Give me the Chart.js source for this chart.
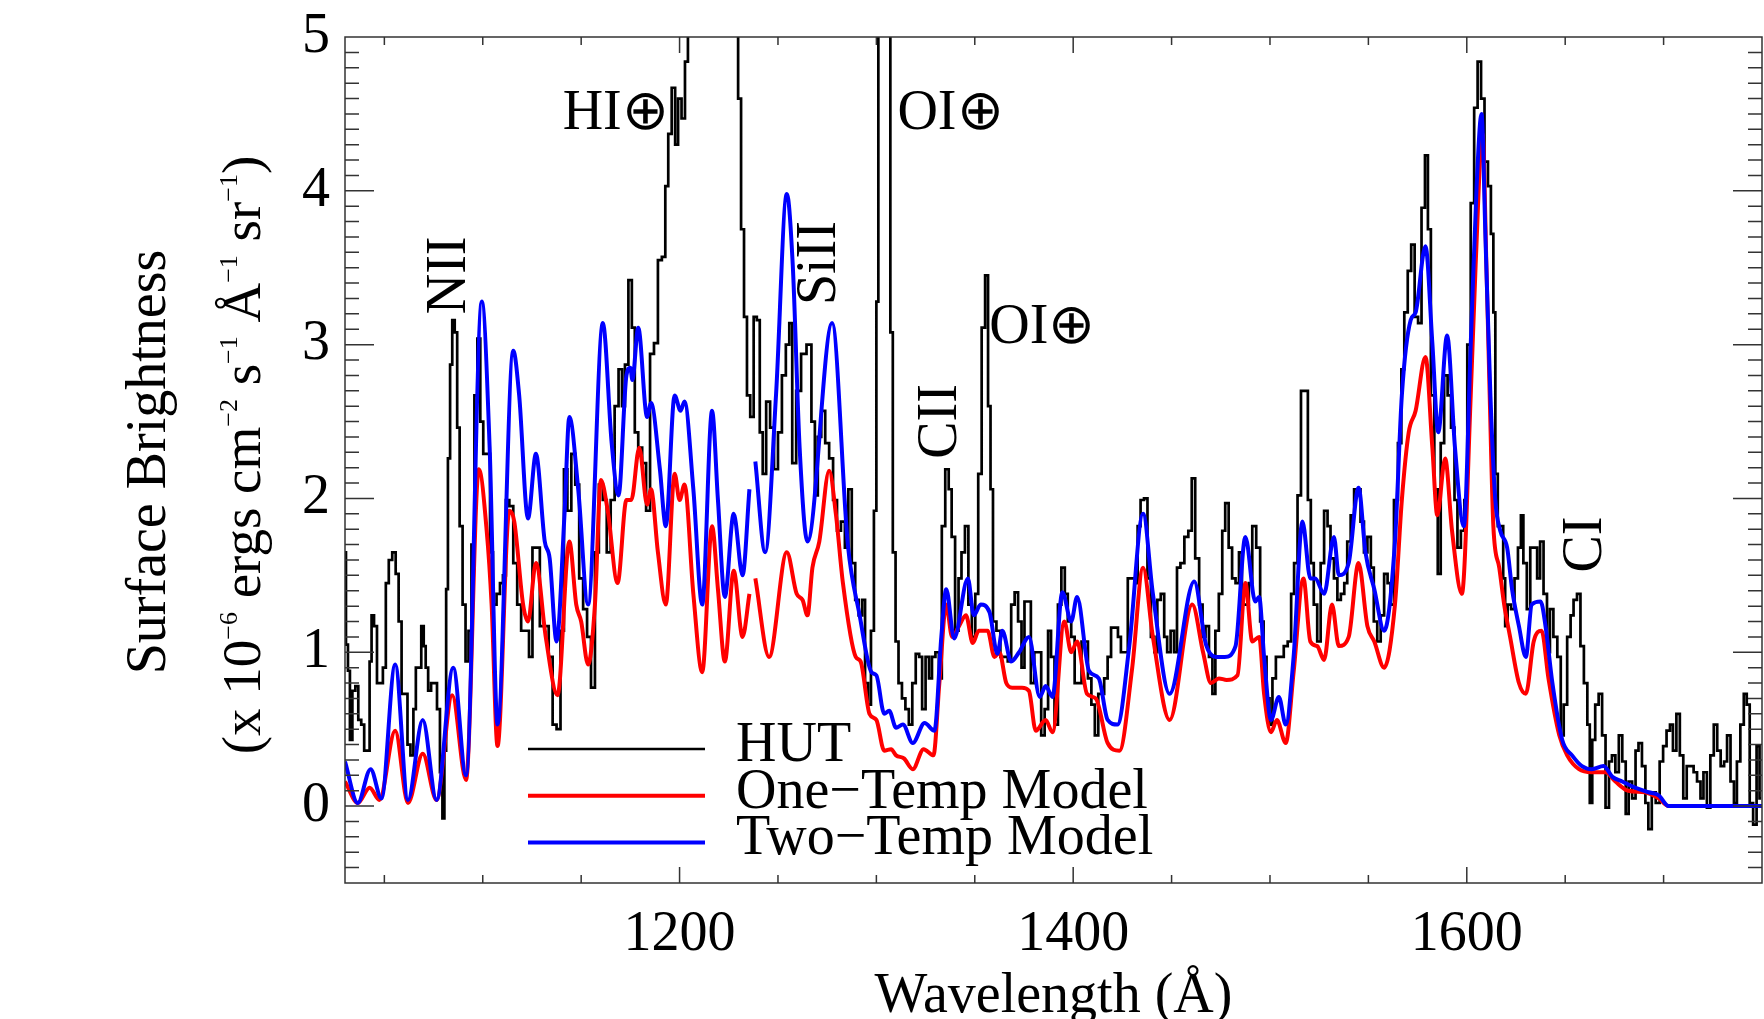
<!DOCTYPE html>
<html>
<head>
<meta charset="utf-8">
<title>HUT spectrum with one- and two-temperature models</title>
<script src="https://cdn.jsdelivr.net/npm/chart.js@4.4.1/dist/chart.umd.min.js"></script>
<style>
  html, body { margin: 0; padding: 0; background: #fff; }
  canvas { display: block; }
</style>
</head>
<body>
<canvas id="spectrum" width="1764" height="1019"></canvas>
<script>
// HUT data (wavelength in Angstrom / surface brightness, x 1e-6 units)
const hutWave = [
  1030, 1031, 1032, 1033, 1034.5, 1036, 1037.5, 1039, 1040.5, 1042, 1043, 1044, 1045.5, 1047, 1048.5, 1050,
  1051.5, 1053, 1055, 1056.5, 1058, 1059.5, 1061, 1062.5, 1064, 1065.5, 1066.5, 1068, 1069.5, 1070.5, 1071.5,
  1073, 1074.5, 1076, 1077.5, 1079, 1080, 1081, 1081.8, 1082.8, 1084, 1085, 1086.5, 1087.5, 1089, 1090.5, 1092,
  1093.5, 1095, 1096.5, 1098, 1099.5, 1101, 1103, 1104.4, 1106, 1108, 1109.5, 1111, 1112.5, 1114.5, 1116.5,
  1118.5, 1120.5, 1122.5, 1124.5, 1126, 1128, 1130, 1132.5, 1134.5, 1136.5, 1138.5, 1140.5, 1142, 1144, 1146,
  1148, 1150, 1152, 1154, 1156, 1158, 1160, 1162, 1164, 1166, 1168, 1170, 1171.5, 1173, 1175, 1176.5, 1178,
  1180, 1182, 1184, 1186, 1188, 1190, 1192, 1193.5, 1195, 1197, 1198.5, 1200, 1202, 1203.5, 1205, 1210, 1216,
  1222, 1229, 1230.5, 1232, 1233.5, 1235, 1236.8, 1238.5, 1240, 1241.5, 1243, 1245, 1247, 1249, 1251, 1253,
  1255, 1256.5, 1258, 1260.5, 1263, 1266, 1268, 1269.5, 1271, 1273, 1275, 1277, 1279, 1281, 1283, 1285, 1286.5,
  1288.5, 1290, 1292, 1293.5, 1295, 1296.5, 1298, 1299.5, 1300.5, 1301.5, 1304, 1306.5, 1307.7, 1309, 1310.5,
  1312, 1314, 1315.5, 1317.5, 1319, 1321, 1322.5, 1324, 1326, 1327.5, 1329, 1331, 1332.5, 1334, 1336, 1337.5,
  1339, 1341, 1342.5, 1344, 1346, 1347.5, 1349.5, 1351, 1352.5, 1354.5, 1356, 1357.5, 1358.5, 1360, 1362, 1364,
  1366, 1367.5, 1369.5, 1371, 1373, 1374.5, 1376, 1377.5, 1379.5, 1381, 1383, 1384.5, 1386.5, 1388, 1389.5,
  1391.5, 1393, 1395, 1396.5, 1398, 1400, 1401.5, 1403.5, 1405, 1406.5, 1408.5, 1410, 1412, 1413.5, 1415,
  1416.5, 1418.5, 1420, 1422, 1423.5, 1425, 1427, 1428.5, 1430.5, 1432, 1433.5, 1435, 1437, 1438.5, 1440.5,
  1442, 1443.5, 1445.5, 1447, 1448.5, 1450.5, 1452, 1453.5, 1455.5, 1457.5, 1459.5, 1461, 1463, 1465, 1466.5,
  1468, 1470, 1471.5, 1473, 1475, 1476.5, 1478, 1480, 1481.5, 1483.5, 1485, 1486.5, 1488.5, 1490, 1492, 1494,
  1496, 1497.5, 1499, 1500.5, 1502, 1504, 1506, 1508, 1510, 1511.5, 1513, 1515, 1516.5, 1518.5, 1520, 1521.5,
  1523, 1525, 1526.5, 1528.5, 1530, 1531.5, 1533.5, 1535, 1537, 1538.5, 1540, 1542, 1543.5, 1545, 1547, 1548.5,
  1550.5, 1552, 1553.5, 1555.5, 1557, 1559, 1560.5, 1562, 1564, 1566, 1567.5, 1569, 1571, 1572.5, 1574.5, 1576,
  1578, 1579.5, 1581, 1582.5, 1584.5, 1586, 1587.5, 1589.5, 1591, 1593, 1594.5, 1596, 1598, 1599.5, 1601, 1603,
  1604.5, 1606.5, 1608, 1610, 1611.5, 1613, 1614, 1615, 1616.5, 1618, 1619, 1620, 1621.5, 1623.5, 1625, 1627,
  1628, 1629.5, 1631.5, 1633, 1635, 1636.5, 1638, 1640, 1641.5, 1643, 1645, 1647, 1648.5, 1650, 1652, 1653.5,
  1655, 1657, 1658.5, 1660.5, 1662, 1663, 1664.5, 1666, 1668, 1669.5, 1671.5, 1673, 1674.5, 1676.5, 1678, 1680,
  1681.5, 1683, 1685, 1686.5, 1688, 1690, 1691.5, 1693, 1695, 1697, 1699, 1700.5, 1702.5, 1704, 1705.5, 1707.5,
  1709, 1711, 1712.5, 1714.5, 1716, 1718, 1719.5, 1721, 1723, 1724.5, 1726.5, 1728, 1730, 1731.5, 1733, 1735,
  1736.5, 1738, 1740, 1741.5, 1743, 1744.5, 1746.5, 1748, 1749.5
];
const hutFlux = [
  1.65, 1.05, 0.88, 0.43, 0.75, 0.78, 0.56, 0.53, 0.36, 0.36, 0.94, 1.24, 1.17, 0.80, 0.80, 0.90,
  1.45, 1.60, 1.65, 1.51, 1.20, 0.73, 0.73, 0.40, 0.33, 0.63, 0.90, 0.90, 1.17, 1.04, 0.90,
  0.75, 0.80, 0.80, 0.63, 0.22, -0.08, 0.36, 1.41, 2.26, 2.87, 3.16, 3.08, 2.46, 1.82, 1.31, 0.94,
  1.14, 1.70, 2.67, 3.04, 2.50, 2.29, 2.29, 1.65, 1.31, 1.38, 1.45, 1.50, 1.99, 1.95, 1.58,
  1.31, 1.14, 1.14, 0.97, 1.68, 1.68, 1.17, 1.17, 0.97, 0.53, 0.50, 1.14, 2.19, 1.92, 2.29,
  2.09, 1.48, 1.28, 1.10, 0.77, 1.65, 2.09, 1.99, 1.65, 1.99, 2.60, 2.84, 2.60, 2.87, 3.42, 3.11, 2.43,
  2.33, 2.23, 1.92, 2.94, 3.01, 3.55, 3.57, 4.03, 4.37, 4.67, 4.30, 4.60, 4.47, 4.84, 6.0, 12.0, 40.0,
  12.0, 6.0, 4.60, 3.75, 3.18, 2.67, 2.53, 3.18, 3.16, 2.43, 2.16, 2.63, 2.46, 2.19, 2.43, 2.80,
  3.00, 3.14, 2.23, 2.70, 2.94, 3.00, 2.50, 2.02, 2.40, 2.57, 2.36, 2.26, 1.99, 1.79, 1.85, 1.68, 2.06,
  1.58, 1.34, 1.24, 1.34, 0.80, 0.66, 1.14, 1.92, 3.28, 8.0, 40.0, 8.0, 3.08, 1.65, 1.07,
  0.80, 0.70, 0.63, 0.53, 0.80, 0.99, 0.97, 0.63, 0.97, 0.83, 0.97, 1.00, 0.83, 1.82, 2.19, 2.06,
  1.75, 1.14, 1.48, 1.65, 1.82, 1.31, 1.10, 1.38, 2.16, 3.11, 3.45, 2.60, 2.06, 1.20, 1.14, 0.97,
  0.97, 0.94, 1.31, 1.39, 1.20, 0.90, 1.33, 1.33, 0.80, 1.00, 1.00, 0.46, 0.63, 1.14, 0.97,
  0.53, 1.31, 1.55, 1.38, 1.20, 1.10, 0.80, 0.80, 1.07, 1.07, 0.83, 0.66, 0.46, 0.73, 0.73,
  0.83, 0.97, 1.16, 1.16, 1.10, 1.00, 1.00, 1.48, 1.48, 1.45, 1.82, 1.99, 2.00, 1.48, 1.10,
  1.00, 1.34, 1.38, 1.10, 1.00, 1.14, 1.00, 1.55, 1.58, 1.75, 1.79, 2.13, 1.61, 1.31, 1.10,
  1.17, 0.97, 0.73, 1.14, 1.38, 1.79, 1.97, 1.68, 1.48, 1.45, 1.65, 1.31, 1.31, 1.45, 1.82, 1.68,
  1.20, 0.97, 0.70, 0.53, 0.83, 0.97, 0.97, 1.04, 1.07, 1.38, 1.58, 2.02, 2.70, 2.70, 1.99, 1.58,
  1.31, 1.07, 1.58, 1.92, 1.82, 1.61, 1.48, 1.34, 1.38, 1.45, 1.72, 1.89, 2.06, 2.06, 1.85, 1.65,
  1.75, 1.55, 1.20, 1.07, 1.24, 1.51, 1.45, 1.31, 1.99, 2.36, 2.84, 3.21, 3.48, 3.65, 3.18, 3.14,
  3.89, 4.23, 3.75, 2.67, 2.06, 1.51, 2.36, 2.80, 2.67, 2.46, 1.99, 1.68, 1.79, 1.99, 3.00, 3.92,
  4.54, 4.84, 4.60, 4.19, 4.03, 3.72, 3.21, 2.16, 1.82, 1.82, 1.48, 1.17, 1.31, 1.28, 1.48, 1.68,
  1.89, 1.58, 1.28, 1.68, 1.68, 1.48, 1.72, 1.38, 1.00, 1.28, 1.10, 0.97, 0.46, 0.66, 1.10, 1.24,
  1.34, 1.38, 1.04, 0.80, 0.53, 0.02, 0.43, 0.66, 0.73, 0.46, -0.01, 0.29, 0.33, 0.22, 0.46, 0.29,
  -0.05, 0.16, 0.05, 0.36, 0.41, 0.26, 0.02, -0.15, 0.09, 0.02, 0.29, 0.39, 0.49, 0.53, 0.36, 0.60,
  0.33, 0.05, 0.26, 0.26, 0.22, 0.16, 0.05, 0.22, -0.01, 0.33, 0.53, 0.36, 0.26, 0.29, 0.46, 0.16,
  0.02, 0.29, 0.53, 0.73, 0.66, 0.02, -0.12, 0.39, 0.05
];

// One-temperature model (null = masked region)
const oneWave = [
  1030, 1036.5, 1042.5, 1047.5, 1055.5, 1062, 1069.5, 1076.5, 1084.5, 1091.5, 1098, 1102, 1104.5, 1107.5,
  1113.5, 1116, 1120.5, 1123, 1127, 1132, 1138, 1144, 1147.5, 1150, 1153.5, 1157, 1160, 1163.5, 1168.5,
  1173, 1175.5, 1179.5, 1183.5, 1185.5, 1189, 1193, 1197.5, 1200, 1202.5, 1207, 1211.5, 1216.5, 1219.5,
  1223, 1227.5, 1232, 1235.5, 1237, 1238.5, 1245.5, 1254.5, 1259.5, 1262.5, 1265, 1267.5, 1271, 1276,
  1279.5, 1283, 1289.5, 1292, 1296.5, 1300, 1304, 1307.5, 1310, 1314, 1318.5, 1324, 1329, 1332, 1335.5,
  1338.5, 1342, 1345.5, 1349, 1352, 1356.5, 1360, 1362.5, 1366, 1369, 1374, 1377.5, 1381, 1386, 1389.5,
  1395.5, 1399, 1402, 1407, 1411.5, 1417.5, 1423.5, 1430, 1435.5, 1440.5, 1449, 1460.5, 1466, 1470, 1474,
  1478, 1483.5, 1487.5, 1491, 1494.5, 1497, 1500.5, 1503.5, 1508, 1512, 1517, 1520.5, 1524, 1527.5, 1531.5,
  1535, 1540, 1545, 1549.5, 1553, 1558, 1563.5, 1567, 1570.5, 1574, 1579, 1582.5, 1585, 1589, 1592.5,
  1597.5, 1602, 1604.5, 1608, 1610, 1611.5, 1613.5, 1616.5, 1619, 1622, 1626.5, 1630, 1634, 1638, 1641.5,
  1647, 1651, 1657, 1663.5, 1670.5, 1675.5, 1682, 1690.5, 1697.5, 1702.5, 1750
];
const oneFlux = [
  0.16, 0.02, 0.12, 0.04, 0.49, 0.02, 0.34, 0.04, 0.72, 0.17, 2.19, 1.79, 1.31, 0.39,
  1.92, 1.85, 1.31, 1.20, 1.58, 1.10, 0.72, 1.72, 1.31, 1.20, 0.92, 1.31, 2.12, 1.92, 1.45,
  1.99, 1.99, 2.33, 1.96, 2.06, 1.65, 1.31, 2.16, 1.99, 2.09, 1.38, 0.87, 1.82, 1.41,
  0.94, 1.53, 1.10, 1.38, null, 1.48, 0.97, 1.65, 1.38, 1.34, 1.24, 1.55, 1.72, 2.18,
  1.89, 1.45, 0.97, 0.94, 0.60, 0.56, 0.36, 0.37, 0.33, 0.31, 0.24, 0.37, 0.33, 0.80, 1.31,
  1.10, 1.17, 1.24, 1.06, 1.14, 1.14, 0.97, 1.00, 0.80, 0.77, 0.77, 0.75, 0.49, 0.56, 0.48,
  1.20, 1.00, 1.07, 0.73, 0.70, 0.41, 0.36, 0.90, 1.55, 1.10, 0.56, 1.31, 1.00, 0.80, 0.83,
  0.82, 0.85, 1.45, 1.07, 1.10, 0.73, 0.48, 0.56, 0.41, 0.87, 1.48, 1.07, 1.04, 0.95, 1.31,
  1.04, 1.10, 1.58, 1.17, 1.07, 0.90, 1.31, 1.99, 2.43, 2.57, 2.92, 2.33, 1.89, 2.26, 1.79,
  1.38, 2.67, 3.52, 4.37, 3.50, 2.74, 1.82, 1.55, 1.31, 1.10, 0.80, 0.73, 1.07, 1.14, 0.83,
  0.46, 0.33, 0.24, 0.22, 0.22, 0.16, 0.10, 0.09, 0.05, 0.00, 0.00
];

// Two-temperature model (null = masked region)
const twoWave = [
  1030, 1036.5, 1043, 1048.5, 1055.5, 1062, 1069.5, 1076.5, 1085, 1091.5, 1099.5, 1103.5, 1107.5, 1115.5,
  1118.5, 1123, 1127, 1131.5, 1134, 1137.5, 1141.5, 1144, 1148.5, 1153.5, 1161, 1165.5, 1169, 1173, 1175,
  1176, 1179, 1183.5, 1185.5, 1190, 1193, 1197.5, 1200.5, 1202.5, 1207, 1211.5, 1216.5, 1219.5, 1223,
  1227.5, 1232, 1235.5, 1237, 1238.5, 1243.5, 1249, 1254.5, 1257.5, 1261, 1265, 1277.5, 1285.5, 1291.5,
  1297.5, 1300, 1304, 1306.5, 1310, 1313.5, 1318.5, 1324.5, 1329.5, 1333, 1335.5, 1339.5, 1346.5, 1349.5,
  1353, 1357.5, 1361.5, 1364, 1368.5, 1372.5, 1377.5, 1383, 1386, 1389.5, 1394.5, 1399, 1402, 1408, 1413,
  1417.5, 1422.5, 1428.5, 1435.5, 1440.5, 1449, 1461.5, 1467.5, 1472.5, 1477, 1482.5, 1487.5, 1492.5,
  1494.5, 1497, 1500.5, 1504.5, 1508, 1512, 1516.5, 1520.5, 1523, 1527.5, 1532.5, 1535, 1540, 1545, 1548.5,
  1553, 1558, 1563.5, 1567, 1571.5, 1574, 1579, 1582.5, 1585.5, 1590, 1594, 1598.5, 1602, 1605, 1607.5,
  1609.5, 1612, 1614.5, 1617, 1620.5, 1623, 1626.5, 1630, 1633, 1637.5, 1640, 1643.5, 1648.5, 1653.5,
  1658.5, 1663.5, 1669.5, 1674, 1679, 1685.5, 1692.5, 1697.5, 1702.5, 1750
];
const twoFlux = [
  0.29, 0.02, 0.24, 0.05, 0.92, 0.04, 0.56, 0.04, 0.90, 0.20, 3.28, 2.33, 0.53, 2.96,
  2.67, 1.87, 2.29, 1.72, 1.61, 1.07, 1.89, 2.53, 2.06, 1.31, 3.14, 2.36, 2.02, 2.80, 2.85,
  2.77, 3.11, 2.53, 2.62, 2.19, 1.82, 2.67, 2.57, 2.63, 2.06, 1.31, 2.57, 1.99, 1.36,
  1.90, 1.50, 2.06, null, 2.24, 1.65, 2.67, 3.98, 3.52, 2.33, 1.72, 3.14, 1.70, 1.24,
  0.87, 0.85, 0.60, 0.62, 0.51, 0.53, 0.41, 0.54, 0.49, 1.10, 1.41, 1.09, 1.48, 1.24,
  1.31, 1.26, 0.99, 1.14, 0.94, 1.00, 1.10, 0.71, 0.78, 0.71, 1.39, 1.20, 1.36, 0.88, 0.83,
  0.56, 0.53, 1.04, 1.90, 1.38, 0.73, 1.46, 1.05, 0.97, 0.97, 1.04, 1.75, 1.33,
  1.36, 0.97, 0.56, 0.71, 0.53, 0.97, 1.85, 1.48, 1.48, 1.38, 1.75, 1.50, 1.58, 2.07, 1.65,
  1.41, 1.14, 1.72, 2.67, 3.16, 3.21, 3.64, 3.01, 2.43, 3.06, 2.33, 1.82, 3.00, 4.03, 4.50,
  3.69, 2.67, 1.99, 1.79, 1.68, 1.41, 1.17, 0.97, 1.31, 1.33, 1.17, 0.80, 0.43, 0.33,
  0.26, 0.24, 0.26, 0.19, 0.16, 0.12, 0.09, 0.07, 0.00, 0.00
];

// axis ticks
const xTickLabels = [1200, 1400, 1600];
const xTickMarks = [1050, 1100, 1150, 1200, 1250, 1300, 1350, 1400, 1450, 1500, 1550, 1600, 1650, 1700];
const yTickLabels = [0, 1, 2, 3, 4, 5];

const SERIF = "'Liberation Serif', 'Times New Roman', Times, serif";

function toPoints(waves, values) {
  return waves.map((w, i) => ({ x: w, y: values[i] }));
}

// line identifications, placed in data coordinates
const lineIds = [
  { text: 'NII', wave: 1090.9, level: 3.45, vertical: true },
  { text: 'HI\u2295', wave: 1140.6, level: 4.40, vertical: false },
  { text: 'SiII', wave: 1279.2, level: 3.53, vertical: true },
  { text: 'OI\u2295', wave: 1310.7, level: 4.40, vertical: false },
  { text: 'OI\u2295', wave: 1357.4, level: 3.01, vertical: false },
  { text: 'CII', wave: 1340.6, level: 2.50, vertical: true },
  { text: 'CI', wave: 1668.0, level: 1.70, vertical: true }
];

// Frame, inward ticks, titles, line ids and legend
const spectrumDecor = {
  id: 'spectrumDecor',
  afterDatasetsDraw(chart) {
    const { ctx, scales: { x, y } } = chart;
    ctx.save();
    ctx.fillStyle = '#000';
    ctx.font = '56px ' + SERIF;
    ctx.textBaseline = 'alphabetic';
    lineIds.forEach(l => {
      const px = x.getPixelForValue(l.wave);
      const py = y.getPixelForValue(l.level);
      if (l.vertical) {
        ctx.save();
        ctx.translate(px, py);
        ctx.rotate(-Math.PI / 2);
        ctx.textAlign = 'center';
        ctx.fillText(l.text, 0, 0);
        ctx.restore();
      } else {
        ctx.textAlign = 'left';
        ctx.fillText(l.text, px, py);
      }
    });

    // legend inside the plot
    chart.data.datasets.forEach((ds, i) => {
      const ly = 749 + i * 46.7;
      ctx.strokeStyle = ds.borderColor;
      ctx.lineWidth = ds.borderWidth;
      ctx.beginPath();
      ctx.moveTo(528, ly);
      ctx.lineTo(705, ly);
      ctx.stroke();
      ctx.textAlign = 'left';
      ctx.fillText(ds.label, 736, ly + 12);
    });
    ctx.restore();
  },
  afterDraw(chart) {
    const { ctx, chartArea: a, scales: { x, y } } = chart;
    ctx.save();
    ctx.strokeStyle = '#333';
    ctx.lineWidth = 1.5;
    ctx.strokeRect(a.left, a.top, a.right - a.left, a.bottom - a.top);

    ctx.beginPath();
    xTickMarks.forEach(v => {
      const px = x.getPixelForValue(v);
      const len = xTickLabels.includes(v) ? 16 : 8;
      ctx.moveTo(px, a.bottom);
      ctx.lineTo(px, a.bottom - len);
      ctx.moveTo(px, a.top);
      ctx.lineTo(px, a.top + len);
    });
    for (let k = -4; k < 50; k++) {
      const py = y.getPixelForValue(k / 10);
      const len = k % 10 === 0 ? 29 : 14;
      ctx.moveTo(a.left, py);
      ctx.lineTo(a.left + len, py);
      ctx.moveTo(a.right, py);
      ctx.lineTo(a.right - len, py);
    }
    ctx.stroke();

    // axis titles
    ctx.fillStyle = '#000';
    ctx.font = '56px ' + SERIF;
    ctx.textBaseline = 'alphabetic';
    ctx.textAlign = 'center';
    ctx.fillText('Wavelength (\u00C5)', (a.left + a.right) / 2, 1012);

    ctx.save();
    ctx.translate(165, 462);
    ctx.rotate(-Math.PI / 2);
    ctx.fillText('Surface Brightness', 0, 0);
    ctx.restore();

    // second line with superscripts
    const parts = [
      ['(x 10', false], ['\u22126', true], [' ergs cm', false], ['\u22122', true], [' s', false],
      ['\u22121', true], [' \u00C5', false], ['\u22121', true], [' sr', false], ['\u22121', true], [')', false]
    ];
    const mainFont = '55px ' + SERIF;
    const supFont = '26px ' + SERIF;
    let total = 0;
    parts.forEach(p => {
      ctx.font = p[1] ? supFont : mainFont;
      total += ctx.measureText(p[0]).width;
    });
    ctx.save();
    ctx.translate(260, 455);
    ctx.rotate(-Math.PI / 2);
    ctx.textAlign = 'left';
    let cx = -total / 2;
    parts.forEach(p => {
      ctx.font = p[1] ? supFont : mainFont;
      ctx.fillText(p[0], cx, p[1] ? -23 : 0);
      cx += ctx.measureText(p[0]).width;
    });
    ctx.restore();
    ctx.restore();
  }
};

const ctx = document.getElementById('spectrum').getContext('2d');
const spectrumChart = new Chart(ctx, {
  type: 'line',
  data: {
    datasets: [
      {
        label: 'HUT',
        data: toPoints(hutWave, hutFlux),
        borderColor: '#000000',
        borderWidth: 2.7,
        stepped: 'middle',
        pointRadius: 0,
        clip: 0,
        order: 2
      },
      {
        label: 'One\u2212Temp Model',
        data: toPoints(oneWave, oneFlux),
        borderColor: '#ff0000',
        borderWidth: 4,
        cubicInterpolationMode: 'monotone',
        spanGaps: false,
        pointRadius: 0,
        clip: 0,
        order: 1
      },
      {
        label: 'Two\u2212Temp Model',
        data: toPoints(twoWave, twoFlux),
        borderColor: '#0000ff',
        borderWidth: 4,
        cubicInterpolationMode: 'monotone',
        spanGaps: false,
        pointRadius: 0,
        clip: 0,
        order: 0
      }
    ]
  },
  options: {
    responsive: false,
    animation: false,
    devicePixelRatio: 1,
    layout: { padding: { top: 37, right: 2, left: 0, bottom: 0 } },
    plugins: {
      legend: { display: false },
      tooltip: { enabled: false }
    },
    scales: {
      x: {
        type: 'linear',
        min: 1030,
        max: 1750,
        grid: { display: false, drawTicks: false },
        border: { display: false },
        ticks: {
          color: '#000',
          font: { family: SERIF, size: 56 },
          padding: 19,
          maxRotation: 0,
          autoSkip: false,
          callback: v => String(v)
        },
        afterBuildTicks: s => { s.ticks = xTickLabels.map(v => ({ value: v })); },
        afterFit: s => { s.height = 136; }
      },
      y: {
        type: 'linear',
        min: -0.5,
        max: 5,
        grid: { display: false, drawTicks: false },
        border: { display: false },
        ticks: {
          color: '#000',
          font: { family: SERIF, size: 56, lineHeight: 0.75 },
          padding: 15,
          autoSkip: false,
          callback: v => String(v)
        },
        afterBuildTicks: s => { s.ticks = yTickLabels.map(v => ({ value: v })); },
        afterFit: s => { s.width = 345; }
      }
    }
  },
  plugins: [spectrumDecor]
});
</script>
</body>
</html>
